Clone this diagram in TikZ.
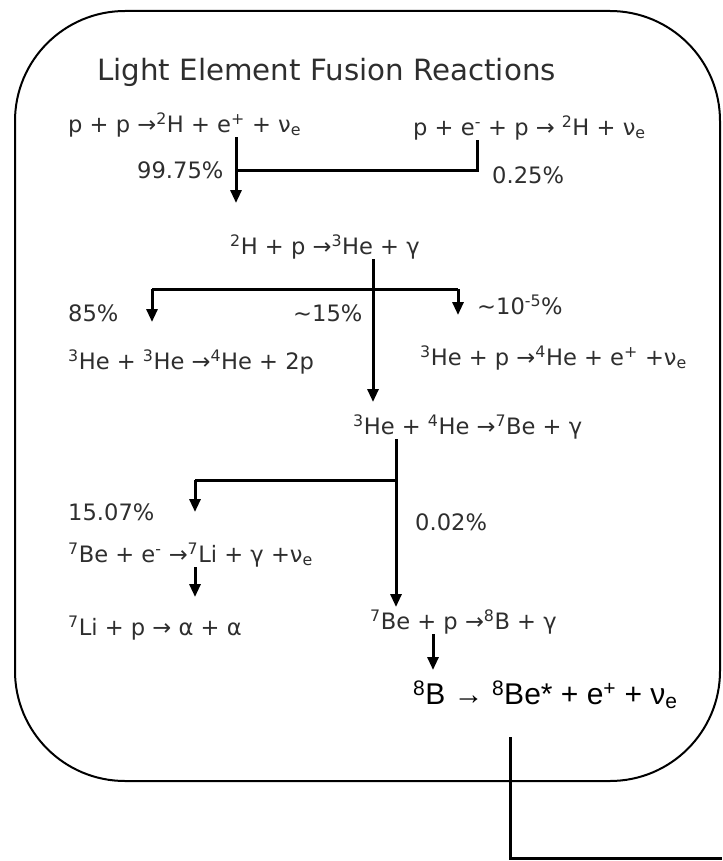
\documentclass[tikz,border=0pt]{standalone}
\usepackage{fontspec}
\setmainfont{DejaVu Sans}
\newfontfamily\decayfont{Liberation Sans}
\usepackage{tikz}
\usetikzlibrary{positioning,arrows.meta}
\definecolor{ink}{HTML}{2E2E2E}

\begin{document}
\begin{tikzpicture}[
  x=1pt, y=-1pt,
  rx/.style={anchor=west, inner sep=0pt, text=ink, font=\fontsize{22.6}{26}\selectfont},
  ttl/.style={anchor=west, inner sep=0pt, text=ink, font=\fontsize{29.3}{34}\selectfont},
  ln/.style={line width=3pt},
  arr/.style={ln, -{Triangle[length=13pt,width=11pt]}},
  frame/.style={draw, line width=2pt, rounded corners=110pt}]

\useasboundingbox (0,0) rectangle (722,861);
\draw[frame] (15,11) rectangle (720,781);

\node[ttl] (title) at (97,72) {Light Element Fusion Reactions};

% reactions
\node[rx] (pp) at (68,125) {p + p →\textsuperscript{2}H + e\textsuperscript{+} + ν\textsubscript{e}};
\node[rx] (pep) at (413,128) {p + e\textsuperscript{-} + p → \textsuperscript{2}H + ν\textsubscript{e}};
\node[rx] (dp) at (230,247) {\textsuperscript{2}H + p →\textsuperscript{3}He + γ};
\node[rx] (hehe) at (68,362) {\textsuperscript{3}He + \textsuperscript{3}He →\textsuperscript{4}He + 2p};
\node[rx] (hep) at (420,358) {\textsuperscript{3}He + p →\textsuperscript{4}He + e\textsuperscript{+} +ν\textsubscript{e}};
\node[rx] (hea) at (353,427) {\textsuperscript{3}He + \textsuperscript{4}He →\textsuperscript{7}Be + γ};
\node[rx] (bee) at (68,555) {\textsuperscript{7}Be + e\textsuperscript{-} →\textsuperscript{7}Li + γ +ν\textsubscript{e}};
\node[rx] (lip) at (68,628) {\textsuperscript{7}Li + p → α + α};
\node[rx] (bep) at (370,622) {\textsuperscript{7}Be + p →\textsuperscript{8}B + γ};
\node[anchor=west, inner sep=0pt, font=\decayfont\fontsize{30}{34}\selectfont] (bdec) at (413,695) {\textsuperscript{8}B → \textsuperscript{8}Be* + e\textsuperscript{+} + ν\textsubscript{e}};

% branching ratios
\node[rx] (rpp) at (137,170) {99.75\%};
\node[rx] (rpep) at (492,175) {0.25\%};
\node[rx] (rhehe) at (68,313) {85\%};
\node[rx] (rhea) at (293,313) {\textasciitilde15\%};
\node[rx] (rhep) at (477,305) {\textasciitilde10\textsuperscript{-5}\%};
\node[rx] (rbee) at (68,512) {15.07\%};
\node[rx] (rbep) at (415,522) {0.02\%};

% junctions
\coordinate (jpp) at (236,171);
\coordinate (jpep) at (477,171);
\coordinate (tpp) at (236,203);
\coordinate (sdp) at (373,289);
\coordinate (lhe) at (152,289);
\coordinate (rhe) at (458,289);
\coordinate (tlhe) at (152,322);
\coordinate (trhe) at (458,315);
\coordinate (thea) at (373,402);
\coordinate (sbe) at (396,480);
\coordinate (lbe) at (195,480);
\coordinate (tlbe) at (195,512);
\coordinate (tbep) at (396,607);
\coordinate (tlip) at (195,597);
\coordinate (tbdec) at (433,670);
\coordinate (xa) at (510,737);
\coordinate (xb) at (510,858);
\coordinate (xc) at (722,858);

\draw[ln] (pep.south -| jpep) -- (jpep) -- (jpp);
\draw[arr] (pp.south -| jpp) -- (tpp);
\draw[arr] (dp.south -| sdp) -- (thea);
\draw[ln] (lhe) -- (rhe);
\draw[arr] (lhe) -- (tlhe);
\draw[arr] (rhe) -- (trhe);
\draw[ln] (hea.south -| sbe) -- (sbe) -- (lbe);
\draw[arr] (sbe) -- (tbep);
\draw[arr] (lbe) -- (tlbe);
\draw[arr] (bee.south -| tlip) -- (tlip);
\draw[arr] (bep.south -| tbdec) -- (tbdec);
\draw[ln] (xa) -- (xb) -- (xc);
\end{tikzpicture}
\end{document}
